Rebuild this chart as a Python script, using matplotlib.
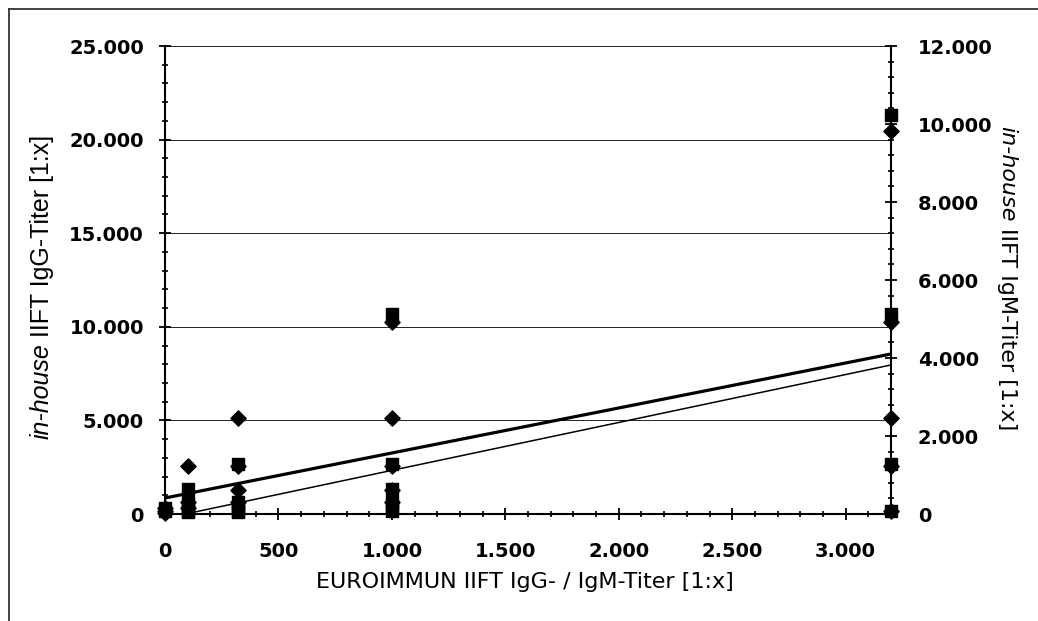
import numpy as np
import matplotlib
matplotlib.use("Agg")
import matplotlib.pyplot as plt
from matplotlib.ticker import MultipleLocator, FuncFormatter
from matplotlib.lines import Line2D

# EUROIMMUN titer (x) vs in-house IgG titer (left axis, diamonds)
igg_x = [0, 0, 0, 100, 100, 100, 320, 320, 320, 320,
         1000, 1000, 1000, 1000, 1000, 3200, 3200, 3200, 3200, 3200]
igg_y = [80, 160, 320, 2560, 640, 320, 5120, 2560, 1280, 640,
         10240, 5120, 2560, 1280, 640, 20480, 10240, 5120, 2560, 160]

# EUROIMMUN titer (x) vs in-house IgM titer (right axis, squares)
igm_x = [0, 0, 100, 100, 100, 100, 100, 320, 320, 320, 320, 320,
         1000, 1000, 1000, 1000, 1000, 1000, 3200, 3200, 3200, 3200]
igm_y = [80, 160, 640, 320, 160, 80, 40, 1280, 320, 160, 80, 40,
         5120, 1280, 640, 320, 160, 80, 10240, 5120, 1280, 80]

# linear trend lines (left-axis units)
trend_x = [0, 3200]
trend_thick = (2.404, 855)    # slope, intercept
trend_thin = (2.56, -230)

def thousands(v, pos):
    return f"{int(round(v)):,}".replace(",", ".")

W, H = 1038, 621
fig = plt.figure(figsize=(W / 100, H / 100), dpi=100)
ax = fig.add_axes([165 / W, 1 - 514 / H, (891 - 165) / W, (514 - 46) / H])
ax2 = ax.twinx()

tick_font = dict(family="DejaVu Sans", weight="bold", size=14)

# trend lines
tx = np.array(trend_x, dtype=float)
ax.plot(tx, trend_thick[0] * tx + trend_thick[1], color="black", lw=2.3, zorder=3)
ax.plot(tx, trend_thin[0] * tx + trend_thin[1], color="black", lw=1.1, zorder=3)

ax.scatter(igg_x, igg_y, marker="D", s=60, color="black", clip_on=False, zorder=4)
ax2.scatter(igm_x, igm_y, marker="s", s=70, color="black", clip_on=False, zorder=4)

ax.set_xlim(0, 3200)
ax.set_ylim(0, 25000)
ax2.set_ylim(0, 12000)

ax.xaxis.set_major_locator(MultipleLocator(500))
ax.xaxis.set_minor_locator(MultipleLocator(100))
ax.yaxis.set_major_locator(MultipleLocator(5000))
ax.yaxis.set_minor_locator(MultipleLocator(1000))
ax2.yaxis.set_major_locator(MultipleLocator(2000))
ax2.yaxis.set_minor_locator(MultipleLocator(400))
for a in (ax.xaxis, ax.yaxis, ax2.yaxis):
    a.set_major_formatter(FuncFormatter(thousands))

ax.yaxis.grid(True, color="#222222", lw=0.7)
ax.set_axisbelow(True)

for s in ("top", "right"):
    ax.spines[s].set_visible(False)
for s in ("top", "left", "bottom"):
    ax2.spines[s].set_visible(False)
for sp in (ax.spines["left"], ax.spines["bottom"], ax2.spines["right"]):
    sp.set_linewidth(1.5)

ax.tick_params(axis="x", which="major", direction="inout", length=8.5, width=1.3, pad=16)
ax.tick_params(axis="y", which="major", direction="inout", length=8.5, width=1.3, pad=11)
ax.tick_params(which="minor", direction="inout", length=5, width=1.2)
ax2.tick_params(axis="y", which="major", direction="inout", length=8.5, width=1.3, pad=15)
ax2.tick_params(axis="y", which="minor", direction="inout", length=5, width=1.2)
for lab in ax.get_xticklabels() + ax.get_yticklabels() + ax2.get_yticklabels():
    lab.set_fontproperties(matplotlib.font_manager.FontProperties(**tick_font))

fig.text(525 / W, 1 - 582 / H, "EUROIMMUN IIFT IgG- / IgM-Titer [1:x]",
         ha="center", va="center", family="DejaVu Sans", size=16)

# outer frame
fig.add_artist(Line2D([9 / W, 9 / W], [0, 1 - 9 / H], color="#333333", lw=1.3))
fig.add_artist(Line2D([9 / W, 1], [1 - 9 / H, 1 - 9 / H], color="#333333", lw=1.3))

# rotated axis titles with an italic first part
fig.canvas.draw()
renderer = fig.canvas.get_renderer()

def label_parts(parts, x_px, yc_px, rotation):
    widths = []
    for txt, kw in parts:
        t = fig.text(0, 0, txt, **kw)
        widths.append(t.get_window_extent(renderer).width)
        t.remove()
    t = fig.text(0, 0, "a a", **parts[-1][1]); w1 = t.get_window_extent(renderer).width; t.remove()
    t = fig.text(0, 0, "aa", **parts[-1][1]); w2 = t.get_window_extent(renderer).width; t.remove()
    gap = w1 - w2
    total = sum(widths) + gap * (len(parts) - 1)
    sign = 1 if rotation == 90 else -1
    pos = yc_px - sign * total / 2
    for (txt, kw), w in zip(parts, widths):
        fig.text(x_px / W, pos / H, txt, rotation=rotation,
                 rotation_mode="anchor", ha="left", va="baseline", **kw)
        pos += sign * (w + gap)

label_parts([("in-house", dict(family="Liberation Sans", style="italic", size=18)),
             ("IIFT IgG-Titer [1:x]", dict(family="Liberation Sans", size=18))],
            49, H - 287, 90)
label_parts([("in-house", dict(family="DejaVu Sans", style="italic", size=16)),
             ("IIFT IgM-Titer [1:x]", dict(family="DejaVu Sans", size=16))],
            1001, H - 278, 270)

fig.savefig("out.png", dpi=100)
